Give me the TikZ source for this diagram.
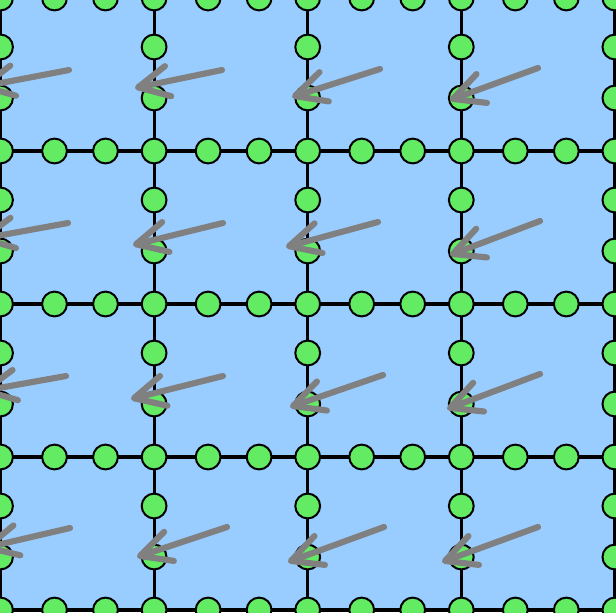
\documentclass[tikz,border=0pt]{standalone}
\usetikzlibrary{arrows.meta}
\definecolor{cellblue}{RGB}{153,204,255}
\definecolor{dotgreen}{RGB}{100,235,100}
\definecolor{windgray}{RGB}{128,128,128}
\begin{document}
\begin{tikzpicture}[x=0.75pt,y=-0.75pt,>={Straight Barb[round,length=23pt,width=23pt]},gridline/.style={line width=2.4pt},dot/.style={circle, draw, line width=1.5pt, fill=dotgreen, minimum size=18.6pt, inner sep=0pt},wind/.style={->, line width=4.6pt, line cap=round, draw=windgray}]
\useasboundingbox (0,0) rectangle (616,612);
\clip (0,0) rectangle (616,612);
\fill[cellblue] (0,0) rectangle (616,612);
\foreach \i in {0,...,4} {\draw[gridline] ({0.5+153.6*\i},-2) -- ({0.5+153.6*\i},610); \draw[gridline] (0.5,{-2+153*\i}) -- (614.9,{-2+153*\i});}
\foreach \i in {0,...,4} \foreach \j in {0,...,4} \node[dot] (g-\i-\j) at ({0.5+153.6*\i},{-2+153*\j}) {};
\foreach \i in {0,...,3} \foreach \j in {0,...,4} {\node[dot] (h-\i-\j-a) at ({54.5+153.6*\i},{-2+153*\j}) {}; \node[dot] (h-\i-\j-b) at ({105.5+153.6*\i},{-2+153*\j}) {};}
\foreach \i in {0,...,4} \foreach \j in {0,...,3} {\node[dot] (v-\i-\j-a) at ({0.5+153.6*\i},{47+153*\j}) {}; \node[dot] (v-\i-\j-b) at ({0.5+153.6*\i},{98+153*\j}) {};}
\foreach \tx/\ty/\hx/\hy in {69/70/-20/87, 222/70/135/88, 380/69/292/97, 538/68/450/100, 68/223/-20/239, 223/223/133/245, 378/222/286/247, 540/221/450/255, 66/376/-18/391, 223/376/131/399, 383/375/290/407, 540/374/447/409, 70/528/-16/548, 227/527/137/557, 384/527/288/562, 538/527/442/562} \draw[wind] (\tx,\ty) -- (\hx,\hy);
\end{tikzpicture}
\end{document}
